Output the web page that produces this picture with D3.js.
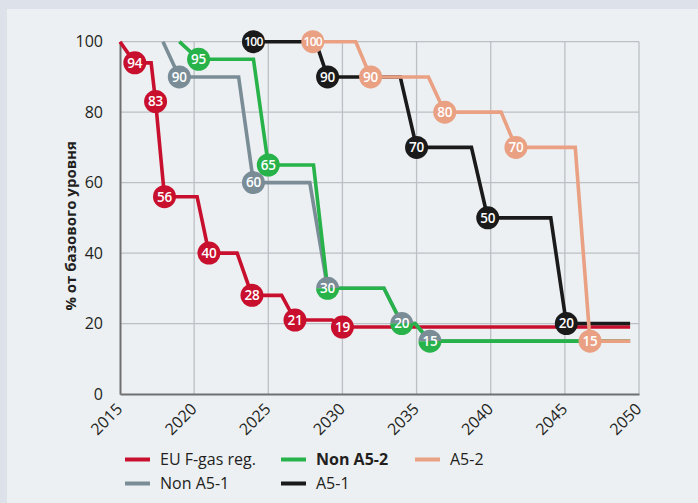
<!DOCTYPE html>
<html>
<head>
<meta charset="utf-8">
<script src="https://cdn.jsdelivr.net/npm/d3@7"></script>
<style>
  html, body { margin: 0; padding: 0; background: #dde2ea; }
  svg { display: block; font-family: "Open Sans", "Noto Sans", sans-serif; }
</style>
</head>
<body>
<svg id="chart" width="698" height="503"></svg>
<script>
// Phase-down schedules: vertices of each stepped line (year, % of baseline)
const redYears   = [2015, 2016, 2017.1, 2017.4, 2018, 2020.2, 2021, 2022.9, 2023.9, 2025.9, 2026.8, 2029.3, 2030, 2049.4];
const redValues  = [100, 94, 94, 83, 56, 56, 40, 40, 28, 28, 21, 21, 19, 19];
const redLabels  = [1, 3, 4, 6, 8, 10, 12];

const grayYears  = [2017.9, 2019, 2023.0, 2024, 2027.8, 2029, 2032.8, 2034, 2034.9, 2035.9, 2049.4];
const grayValues = [100, 90, 90, 60, 60, 30, 30, 20, 20, 15, 15];
const grayLabels = [1, 3];

const greenYears  = [2019, 2020.3, 2024.0, 2025, 2028.05, 2029, 2032.8, 2034, 2034.9, 2035.9, 2049.4];
const greenValues = [100, 95, 95, 65, 65, 30, 30, 20, 20, 15, 15];
const greenLabels = [1, 3];
// points shared by Non A5-1 and Non A5-2 (two-tone markers)
const sharedLabels = [5, 7, 9];

const blackYears  = [2024, 2028.2, 2029, 2033.9, 2035, 2038.7, 2039.8, 2044.05, 2045.1, 2049.4];
const blackValues = [100, 100, 90, 90, 70, 70, 50, 50, 20, 20];
const blackLabels = [0, 2, 4, 6, 8];

const salmonYears  = [2028, 2030.9, 2031.9, 2035.8, 2036.9, 2040.7, 2041.7, 2045.7, 2046.7, 2049.4];
const salmonValues = [100, 100, 90, 90, 80, 80, 70, 70, 15, 15];
const salmonLabels = [0, 2, 4, 6, 8];

const xTicks = [2015, 2020, 2025, 2030, 2035, 2040, 2045, 2050];
const yTicks = [0, 20, 40, 60, 80, 100];
const yTitle = "% от базового уровня";

const legendNames = ["EU F-gas reg.", "Non A5-2", "A5-2", "Non A5-1", "A5-1"];

const colors = {
  red: "#c8102e",
  gray: "#7a8d97",
  green: "#27b24a",
  black: "#1b1a1a",
  salmon: "#e9a083"
};

const svg = d3.select("#chart");

// panel background
svg.append("rect").attr("x", 7).attr("y", 9).attr("width", 698).attr("height", 503).attr("fill", "#ecf0f3");

const x = d3.scaleLinear().domain([2015, 2050]).range([120, 639]);
const y = d3.scaleLinear().domain([0, 100]).range([394, 41.7]);

// grid
const grid = svg.append("g");
grid.selectAll("line.v").data(xTicks.slice(1)).join("line")
  .attr("x1", d => x(d)).attr("x2", d => x(d))
  .attr("y1", y(0)).attr("y2", y(100))
  .attr("stroke", "#bcc0c4").attr("stroke-width", 1.3);
grid.selectAll("line.h").data(yTicks.slice(1)).join("line")
  .attr("x1", x(2015)).attr("x2", x(2050))
  .attr("y1", d => y(d)).attr("y2", d => y(d))
  .attr("stroke", "#bcc0c4").attr("stroke-width", 1.3);

// axes
const yAxis = svg.append("g").attr("transform", `translate(${x(2015)},0)`)
  .call(d3.axisLeft(y).tickValues(yTicks).tickSize(0).tickPadding(17));
const xAxis = svg.append("g").attr("transform", `translate(0,${y(0)})`)
  .call(d3.axisBottom(x).tickValues(xTicks).tickSize(0).tickFormat(d3.format("d")));
[yAxis, xAxis].forEach(a => {
  a.select(".domain").attr("stroke", "#6e6f71").attr("stroke-width", 2);
  a.selectAll("text").attr("fill", "#231f20").attr("font-size", 16).attr("font-family", "Open Sans, sans-serif");
});
xAxis.selectAll(".tick text")
  .attr("text-anchor", "end")
  .attr("y", 0)
  .attr("dy", 0)
  .attr("transform", "translate(3,16) rotate(-45)");

svg.append("text")
  .attr("transform", `translate(76,${(y(0) + y(100)) / 2 + 8}) rotate(-90)`)
  .attr("text-anchor", "middle")
  .attr("font-size", 15).attr("font-weight", 700).attr("fill", "#231f20")
  .text(yTitle);

const line = d3.line().x(d => x(d[0])).y(d => y(d[1]));
const R = 11.5;

function pts(years, values) { return years.map((yr, i) => [yr, values[i]]); }

function drawLine(p, color) {
  svg.append("path").datum(p).attr("d", line)
    .attr("fill", "none").attr("stroke", color).attr("stroke-width", 3.6)
    .attr("stroke-linejoin", "miter");
}

function drawMarkers(p, idx, color) {
  const g = svg.append("g");
  idx.forEach(i => {
    const [yr, v] = p[i];
    g.append("circle").attr("cx", x(yr)).attr("cy", y(v)).attr("r", R).attr("fill", color);
    markerText(g, yr, v);
  });
}

function markerText(g, yr, v) {
  g.append("text").attr("x", x(yr)).attr("y", y(v)).attr("dy", "0.36em")
    .attr("text-anchor", "middle").attr("fill", "#fff")
    .attr("font-size", v >= 100 ? 12 : 13.5).attr("font-weight", 600)
    .attr("letter-spacing", v >= 100 ? -0.7 : -0.2)
    .text(v);
}

const red = pts(redYears, redValues);
const gray = pts(grayYears, grayValues);
const green = pts(greenYears, greenValues);
const black = pts(blackYears, blackValues);
const salmon = pts(salmonYears, salmonValues);

drawLine(red, colors.red);
drawMarkers(red, redLabels, colors.red);

drawLine(gray, colors.gray);
drawMarkers(gray, grayLabels, colors.gray);

drawLine(green, colors.green);
drawMarkers(green, greenLabels, colors.green);

// two-tone markers: top half Non A5-1, bottom half Non A5-2
const shared = svg.append("g");
sharedLabels.forEach(i => {
  const [yr, v] = green[i];
  const cx = x(yr), cy = y(v);
  const arc = d3.arc().innerRadius(0).outerRadius(R);
  shared.append("path").attr("transform", `translate(${cx},${cy})`)
    .attr("d", arc({ startAngle: -Math.PI / 2, endAngle: Math.PI / 2 })).attr("fill", colors.gray);
  shared.append("path").attr("transform", `translate(${cx},${cy})`)
    .attr("d", arc({ startAngle: Math.PI / 2, endAngle: 3 * Math.PI / 2 })).attr("fill", colors.green);
  markerText(shared, yr, v);
});

drawLine(black, colors.black);
drawMarkers(black, blackLabels, colors.black);

drawLine(salmon, colors.salmon);
drawMarkers(salmon, salmonLabels, colors.salmon);

// legend
const legendColors = [colors.red, colors.green, colors.salmon, colors.gray, colors.black];
const legendX = [125, 281, 415, 125, 281];
const legendY = [459.5, 459.5, 459.5, 483.5, 483.5];
const legend = svg.append("g");
legendNames.forEach((name, i) => {
  legend.append("line")
    .attr("x1", legendX[i]).attr("x2", legendX[i] + 25)
    .attr("y1", legendY[i]).attr("y2", legendY[i])
    .attr("stroke", legendColors[i]).attr("stroke-width", 4);
  legend.append("text")
    .attr("x", legendX[i] + 35).attr("y", legendY[i]).attr("dy", "0.36em")
    .attr("font-size", 16).attr("fill", "#231f20")
    .attr("font-weight", name === "Non A5-2" ? 700 : 400)
    .text(name);
});
</script>
</body>
</html>
